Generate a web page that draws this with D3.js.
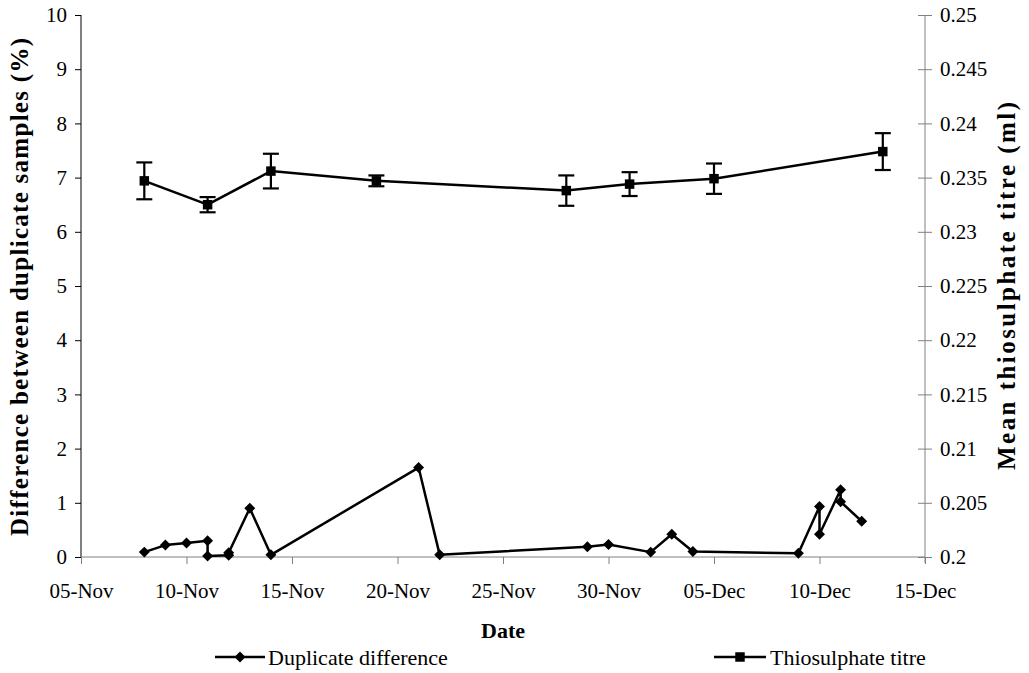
<!DOCTYPE html>
<html>
<head>
<meta charset="utf-8">
<script src="https://cdn.jsdelivr.net/npm/d3@7"></script>
<style>
  html, body { margin: 0; padding: 0; background: #fff; }
  svg { display: block; }
  text { font-family: 'Liberation Serif', 'Times New Roman', serif; fill: #000; }
</style>
</head>
<body>
<svg id="chart" width="1029" height="673"></svg>
<script>
// Duplicate-sample differences (%), one entry per analysed pair
const dupDates = ["2003-11-08","2003-11-09","2003-11-10","2003-11-11","2003-11-11","2003-11-12","2003-11-12",
                  "2003-11-13","2003-11-14","2003-11-21","2003-11-22","2003-11-29","2003-11-30","2003-12-02",
                  "2003-12-03","2003-12-04","2003-12-09","2003-12-10","2003-12-10","2003-12-11","2003-12-11","2003-12-12"];
const dupValues = [0.09, 0.22, 0.26, 0.30, 0.02, 0.03, 0.08,
                   0.90, 0.04, 1.65, 0.04, 0.19, 0.23, 0.09,
                   0.42, 0.10, 0.07, 0.93, 0.42, 1.24, 1.02, 0.66];

// Mean thiosulphate titre (ml) with its error bars
const titreDates  = ["2003-11-08","2003-11-11","2003-11-14","2003-11-19","2003-11-28","2003-12-01","2003-12-05","2003-12-13"];
const titreValues = [0.2347, 0.2325, 0.2356, 0.2347, 0.2338, 0.2344, 0.2349, 0.2374];
const titreErrors = [0.0017, 0.0007, 0.0016, 0.0005, 0.0014, 0.0011, 0.0014, 0.0017];

// Axis ticks
const xTickDates  = ["2003-11-05","2003-11-10","2003-11-15","2003-11-20","2003-11-25","2003-11-30","2003-12-05","2003-12-10","2003-12-15"];
const leftTicks   = [0,1,2,3,4,5,6,7,8,9,10];
const rightTicks  = [0.2,0.205,0.21,0.215,0.22,0.225,0.23,0.235,0.24,0.245,0.25];

const parse = d3.utcParse("%Y-%m-%d");
const fmt = d3.utcFormat("%d-%b");

const svg = d3.select("#chart");
const plot = { left: 81, right: 925, top: 15, bottom: 557 };
const SERIF = "'Liberation Serif', 'Times New Roman', serif";
const FS = 21;      // tick labels
const FS_LEG = 22;  // legend and x title
const FS_VT = 25;   // rotated axis titles

const x = d3.scaleUtc()
  .domain([parse(xTickDates[0]), parse(xTickDates[xTickDates.length - 1])])
  .range([plot.left, plot.right]);
const yL = d3.scaleLinear().domain([0, 10]).range([plot.bottom, plot.top]);
const yR = d3.scaleLinear().domain([0.2, 0.25]).range([plot.bottom, plot.top]);

function styleAxis(g) {
  g.attr("font-family", SERIF).attr("font-size", FS);
  g.selectAll("text").attr("fill", "#000");
}

// Left axis
const gL = svg.append("g").attr("transform", `translate(${plot.left},0)`)
  .call(d3.axisLeft(yL).tickValues(leftTicks).tickSize(6).tickPadding(8).tickFormat(d3.format("d")))
  .call(styleAxis);
gL.select(".domain").attr("stroke", "#000").attr("d", `M0,${plot.top}V${plot.bottom}`);
gL.selectAll(".tick line").attr("stroke", "#000");

// Right axis with ticks crossing the line
const gR = svg.append("g").attr("transform", `translate(${plot.right},0)`)
  .call(d3.axisRight(yR).tickValues(rightTicks).tickSize(7).tickPadding(8).tickFormat(d => String(+d.toFixed(3))))
  .call(styleAxis);
gR.select(".domain").attr("stroke", "#808080").attr("d", `M0,${plot.top}V${plot.bottom + 6}`);
gR.selectAll(".tick line").attr("stroke", "#808080").attr("x1", -7).attr("x2", 7);

// Bottom axis
const gB = svg.append("g").attr("transform", `translate(0,${plot.bottom})`)
  .call(d3.axisBottom(x).tickValues(xTickDates.map(parse)).tickSize(7).tickPadding(19).tickFormat(fmt))
  .call(styleAxis);
gB.select(".domain").attr("stroke", "#808080").attr("d", `M${plot.left},0H${plot.right}`);
gB.selectAll(".tick line").attr("stroke", "#808080");

// Axis titles
svg.append("text").attr("x", 503).attr("y", 638)
  .attr("text-anchor", "middle").attr("font-family", SERIF).attr("font-weight", "bold").attr("font-size", FS_LEG)
  .text("Date");
svg.append("text").attr("transform", `translate(28,287) rotate(-90)`)
  .attr("text-anchor", "middle").attr("font-family", SERIF).attr("font-weight", "bold").attr("font-size", FS_VT)
  .attr("textLength", 498).attr("lengthAdjust", "spacing")
  .text("Difference between duplicate samples (%)");
svg.append("text").attr("transform", `translate(1015,286) rotate(-90)`)
  .attr("text-anchor", "middle").attr("font-family", SERIF).attr("font-weight", "bold").attr("font-size", FS_VT)
  .attr("textLength", 368).attr("lengthAdjust", "spacing")
  .text("Mean thiosulphate titre (ml)");

const diamond = d3.symbol().type(d3.symbolSquare).size(60)();
const square = d3.symbol().type(d3.symbolSquare).size(90)();

// Duplicate difference series
const dup = dupDates.map((d, i) => ({ date: parse(d), v: dupValues[i] }));
svg.append("path").datum(dup)
  .attr("fill", "none").attr("stroke", "#000").attr("stroke-width", 2.5).attr("stroke-linejoin", "round")
  .attr("d", d3.line().x(d => x(d.date)).y(d => yL(d.v)));
svg.append("g").selectAll("path").data(dup).join("path")
  .attr("d", diamond).attr("fill", "#000")
  .attr("transform", d => `translate(${x(d.date)},${yL(d.v)}) rotate(45)`);

// Thiosulphate titre series with error bars
const titre = titreDates.map((d, i) => ({ date: parse(d), v: titreValues[i], e: titreErrors[i] }));
const eb = svg.append("g").attr("stroke", "#000").attr("stroke-width", 2.2);
titre.forEach(d => {
  const cx = x(d.date), y0 = yR(d.v - d.e), y1 = yR(d.v + d.e);
  eb.append("line").attr("x1", cx).attr("x2", cx).attr("y1", y0).attr("y2", y1);
  eb.append("line").attr("x1", cx - 8).attr("x2", cx + 8).attr("y1", y0).attr("y2", y0);
  eb.append("line").attr("x1", cx - 8).attr("x2", cx + 8).attr("y1", y1).attr("y2", y1);
});
svg.append("path").datum(titre)
  .attr("fill", "none").attr("stroke", "#000").attr("stroke-width", 2.5).attr("stroke-linejoin", "round")
  .attr("d", d3.line().x(d => x(d.date)).y(d => yR(d.v)));
svg.append("g").selectAll("path").data(titre).join("path")
  .attr("d", square).attr("fill", "#000")
  .attr("transform", d => `translate(${x(d.date)},${yR(d.v)})`);

// Legend
const legendY = 657;
const lg1 = svg.append("g").attr("transform", `translate(240,${legendY})`);
lg1.append("line").attr("x1", -25).attr("x2", 25).attr("stroke", "#000").attr("stroke-width", 2.5);
lg1.append("path").attr("d", diamond).attr("transform", "rotate(45)");
lg1.append("text").attr("x", 28).attr("dy", "0.35em").attr("font-family", SERIF).attr("font-size", FS_LEG)
  .text("Duplicate difference");
const lg2 = svg.append("g").attr("transform", `translate(740,${legendY})`);
lg2.append("line").attr("x1", -26).attr("x2", 26).attr("stroke", "#000").attr("stroke-width", 2.5);
lg2.append("path").attr("d", square);
lg2.append("text").attr("x", 30).attr("dy", "0.35em").attr("font-family", SERIF).attr("font-size", FS_LEG)
  .text("Thiosulphate titre");
</script>
</body>
</html>
